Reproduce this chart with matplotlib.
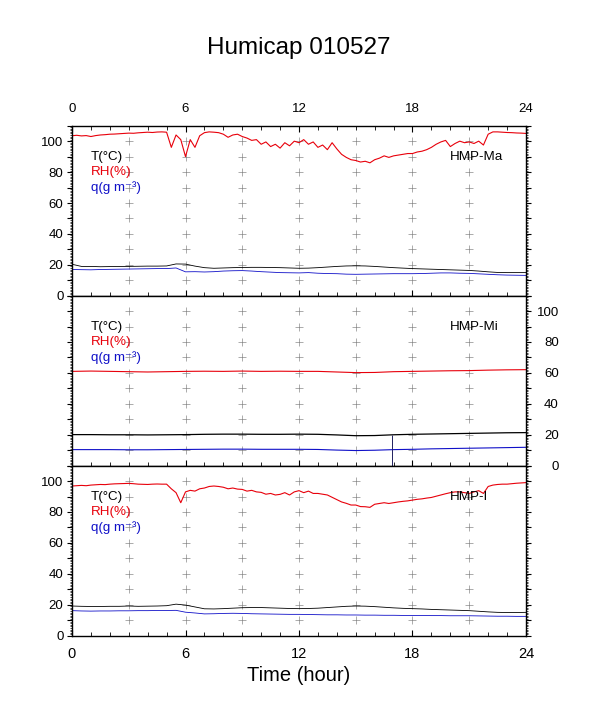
import numpy as np
import matplotlib.pyplot as plt
from matplotlib.ticker import MultipleLocator, FuncFormatter

plt.rcParams['font.family'] = ['Liberation Sans', 'DejaVu Sans']

# time axes (hour of day)
hours_q = np.arange(0, 24.01, 0.25)   # 15-min readings
hours_h = np.arange(0, 24.01, 0.5)    # 30-min readings
hours_1 = np.arange(0, 25, 1)         # hourly readings

# HMP-Ma
rh_ma = [103.5, 103.8, 103.4, 103.6, 103.0, 103.6, 104.0, 104.2,
         104.5, 104.6, 104.8, 105.0, 105.2, 105.1, 105.4, 105.6,
         105.8, 105.6, 105.9, 106.0, 105.8, 96.0, 104.0, 101.0,
         90.0, 101.0, 96.0, 103.5, 105.5, 106.0, 105.8, 105.5,
         104.5, 102.5, 104.0, 104.5, 103.0, 102.0, 100.5, 101.0,
         98.0, 99.5, 96.5, 98.0, 95.5, 99.0, 97.0, 100.0,
         99.0, 101.0, 98.0, 99.5, 96.0, 97.5, 94.5, 99.0,
         95.0, 91.5, 89.5, 88.0, 87.5, 86.5, 87.0, 86.0,
         88.0, 89.0, 90.5, 89.5, 90.5, 91.0, 91.5, 92.0,
         92.0, 93.0, 93.5, 94.5, 96.0, 98.0, 99.5, 100.5,
         96.5, 98.5, 100.0, 99.0, 99.5, 98.5, 100.0, 97.5,
         104.5, 106.0, 106.0, 105.8, 105.6, 105.5, 105.3, 105.2,
         105.0]
t_ma = [20.4, 19.0, 19.0, 18.8, 18.9, 19.0, 19.0, 19.1, 19.2, 19.2,
        19.3, 20.6, 20.5, 19.2, 18.2, 17.8, 18.0, 18.2, 18.3, 18.4,
        18.4, 18.3, 18.2, 18.0, 17.8, 17.9, 18.2, 18.6, 19.0, 19.3,
        19.4, 19.3, 19.0, 18.6, 18.2, 17.9, 17.6, 17.4, 17.2, 17.0,
        16.8, 16.6, 16.4, 16.0, 15.5, 15.1, 15.0, 15.0, 15.0]
q_ma = [17.0, 16.9, 16.8, 17.0, 17.1, 17.2, 17.3, 17.4, 17.5, 17.6,
        17.6, 18.0, 15.5, 15.6, 15.4, 15.6, 16.0, 16.2, 16.3, 16.0,
        15.6, 15.3, 15.0, 14.9, 14.8, 15.0, 14.6, 14.4, 14.3, 14.0,
        13.9, 14.0, 14.1, 14.2, 14.3, 14.3, 14.3, 14.4, 14.6, 14.8,
        14.8, 14.6, 14.5, 14.2, 13.9, 13.6, 13.4, 13.3, 13.2]

# HMP-Mi
rh_mi = [61.0, 61.2, 61.0, 60.8, 60.6, 60.8, 61.0, 61.1, 61.0, 61.2,
         61.0, 61.1, 61.0, 61.0, 60.6, 60.2, 60.3, 60.8, 61.0, 61.2,
         61.4, 61.5, 61.8, 62.0, 62.1]
t_mi = [20.1, 20.1, 20.0, 20.0, 19.9, 20.0, 20.1, 20.3, 20.4, 20.4,
        20.3, 20.3, 20.4, 20.3, 19.9, 19.4, 19.5, 20.0, 20.3, 20.5,
        20.7, 20.9, 21.1, 21.3, 21.4]
q_mi = [10.4, 10.4, 10.4, 10.3, 10.3, 10.4, 10.5, 10.6, 10.7, 10.7,
        10.6, 10.6, 10.6, 10.5, 10.1, 9.8, 10.0, 10.4, 10.6, 10.9,
        11.1, 11.3, 11.5, 11.7, 11.9]
dropout_hour = 16.9
dropout_top = 20.0

# HMP-I
rh_i = [96.8, 97.0, 97.2, 97.0, 97.4, 97.6, 97.8, 97.7,
        98.0, 98.2, 98.3, 98.4, 98.5, 98.3, 98.0, 97.9,
        97.8, 98.0, 98.1, 98.0, 98.0, 95.0, 92.5, 86.0,
        93.0, 94.0, 93.5, 95.0, 95.5, 96.5, 96.8, 96.5,
        96.0, 95.0, 95.5, 94.8, 94.6, 93.5, 94.0, 93.0,
        92.7, 91.5, 92.0, 91.0, 91.4, 92.5, 91.0, 93.0,
        93.8, 92.5, 93.5, 92.0, 92.0, 91.5, 91.0, 89.5,
        88.0, 86.5, 85.6, 84.5, 84.5, 83.5, 83.4, 83.0,
        85.0, 85.5, 86.0, 85.5, 86.0, 86.5, 86.9, 87.2,
        87.7, 88.2, 88.5, 89.0, 89.4, 90.2, 91.0, 91.8,
        92.5, 93.0, 93.0, 92.5, 92.0, 93.0, 93.8, 92.0,
        96.5, 97.4, 97.8, 98.0, 98.0, 98.3, 98.6, 98.8,
        99.0]
t_i = [19.2, 19.0, 18.9, 18.9, 19.0, 19.0, 19.2, 19.0, 19.1, 19.2,
       19.4, 20.4, 19.8, 18.6, 17.4, 17.3, 17.5, 17.8, 18.1, 18.2,
       18.2, 18.0, 17.8, 17.6, 17.5, 17.6, 17.8, 18.2, 18.6, 19.0,
       19.2, 19.1, 18.8, 18.4, 18.0, 17.7, 17.5, 17.3, 17.0, 16.8,
       16.6, 16.4, 16.2, 15.8, 15.4, 15.1, 15.0, 15.0, 15.1]
q_i = [16.2, 16.0, 15.9, 16.0, 16.0, 16.1, 16.1, 16.2, 16.2, 16.3,
       16.3, 16.4, 15.2, 14.7, 14.1, 14.2, 14.4, 14.5, 14.4, 14.2,
       14.1, 14.0, 13.9, 13.8, 13.8, 13.7, 13.6, 13.5, 13.5, 13.4,
       13.4, 13.3, 13.3, 13.2, 13.2, 13.1, 13.1, 13.1, 13.0, 13.0,
       12.9, 12.9, 12.9, 12.8, 12.7, 12.6, 12.6, 12.5, 12.5]

grid_hours = [3, 6, 9, 12, 15, 18, 21]
grid_values = [10, 20, 30, 40, 50, 60, 70, 80, 90, 100]

RED = '#e8000b'
BLUE = '#1010c8'

W, H = 598, 708
fig = plt.figure(figsize=(W / 100, H / 100), dpi=100)

left = 72 / W
width = 454 / W
tops = [125.7, 295.6, 465.6]
ph = 170.1


def panel(i):
    ax = fig.add_axes([left, 1 - (tops[i] + ph) / H, width, ph / H])
    ax.set_xlim(0, 24)
    ax.set_ylim(0, 110)
    for s in ax.spines.values():
        s.set_linewidth(1.0)
    # grey crosses
    gx, gy = np.meshgrid(grid_hours, grid_values)
    ax.plot(gx.ravel(), gy.ravel(), ls='none', marker='+', ms=6.3,
            mew=0.5, color='#8a8a8a', zorder=1)
    ax.xaxis.set_major_locator(MultipleLocator(6))
    ax.xaxis.set_minor_locator(MultipleLocator(1))
    ax.yaxis.set_major_locator(MultipleLocator(10))
    ax.yaxis.set_minor_locator(MultipleLocator(1))
    ax.yaxis.set_major_formatter(
        FuncFormatter(lambda v, p: '%d' % v if v % 20 == 0 and v <= 100 else ''))
    ax.xaxis.set_major_formatter(FuncFormatter(lambda v, p: '%d' % v))
    ax.tick_params(axis='x', which='major', direction='in', length=4.5,
                   width=0.8, labelsize=10.5, pad=8)
    ax.tick_params(axis='x', which='minor', direction='in', length=3,
                   width=0.6)
    ax.tick_params(axis='y', which='major', direction='out', length=3.6,
                   width=0.8, labelsize=9.5, pad=2.5, left=True, right=True)
    ax.tick_params(axis='y', which='minor', direction='out', length=1.6,
                   width=0.5, left=True, right=True)
    return ax


def labels(ax, name):
    ax.text(1.0, 90, 'T(°C)', color='black', fontsize=9.6, va='center')
    ax.text(1.0, 80, 'RH(%)', color=RED, fontsize=9.6, va='center')
    ax.text(1.0, 70, 'q(g m⁻³)', color=BLUE, fontsize=9.6, va='center')
    ax.text(20.0, 90, name, color='black', fontsize=9.6, va='center')


# panel 1: HMP-Ma
ax1 = panel(0)
ax1.plot(hours_q, rh_ma, color=RED, lw=0.8)
ax1.plot(hours_h, t_ma, color='black', lw=0.6)
ax1.plot(hours_h, q_ma, color=BLUE, lw=0.6)
ax1.tick_params(axis='x', which='both', top=True, bottom=True,
                labeltop=True, labelbottom=False)
ax1.tick_params(axis='x', which='major', labelsize=9.5)
labels(ax1, 'HMP-Ma')

# panel 2: HMP-Mi
ax2 = panel(1)
ax2.plot(hours_1, rh_mi, color=RED, lw=0.8)
ax2.plot(hours_1, t_mi, color='black', lw=0.9)
ax2.plot(hours_1, q_mi, color=BLUE, lw=0.8)
ax2.vlines(dropout_hour, 0, dropout_top, color='#202060', lw=0.7)
ax2.tick_params(axis='x', which='both', top=False, bottom=True,
                labeltop=False, labelbottom=False)
ax2.tick_params(axis='y', which='major', labelleft=False, labelright=True,
                pad=20)
for t in ax2.get_yticklabels(which='major'):
    t.set_horizontalalignment('right')
labels(ax2, 'HMP-Mi')

# panel 3: HMP-I
ax3 = panel(2)
ax3.plot(hours_q, rh_i, color=RED, lw=0.8)
ax3.plot(hours_h, t_i, color='black', lw=0.6)
ax3.plot(hours_h, q_i, color=BLUE, lw=0.6)
ax3.tick_params(axis='x', which='both', top=False, bottom=True,
                labeltop=False, labelbottom=True)
labels(ax3, 'HMP-I')
ax3.set_xlabel('Time (hour)', fontsize=14.5, labelpad=4)

fig.text(0.5, 1 - 48 / H, 'Humicap 010527', fontsize=17.5,
         ha='center', va='center')

fig.savefig('out.png', dpi=100)
